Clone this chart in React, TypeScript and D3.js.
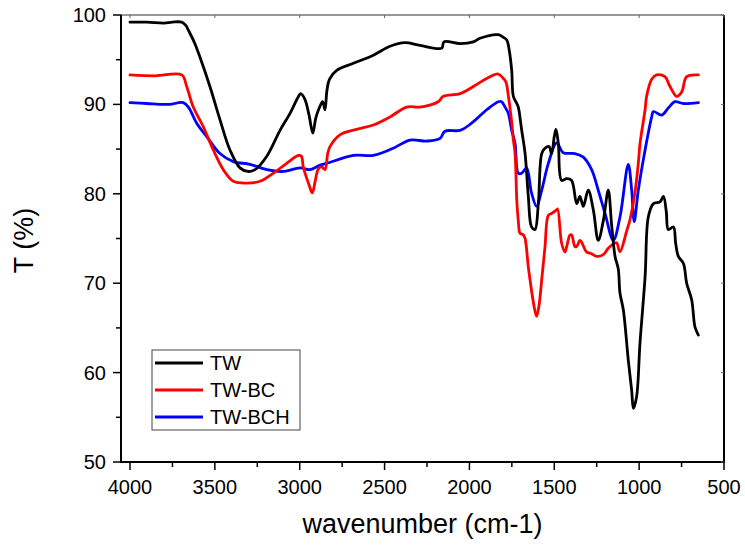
import React from "react";
import * as d3 from "d3";

// ---- data ----
const twWave = [4000, 3900, 3800, 3750, 3695, 3670, 3656, 3620, 3588, 3529, 3470, 3411, 3352, 3305, 3263, 3194, 3116, 3057, 3010, 2995, 2970, 2945, 2923, 2905, 2885, 2865, 2851, 2840, 2825, 2782, 2684, 2566, 2468, 2380, 2291, 2163, 2150, 2055, 1977, 1938, 1830, 1800, 1780, 1765, 1751, 1741, 1721, 1712, 1692, 1672, 1653, 1634, 1614, 1594, 1574, 1555, 1531, 1516, 1500, 1490, 1476, 1457, 1427, 1398, 1368, 1349, 1329, 1300, 1270, 1241, 1211, 1182, 1162, 1142, 1123, 1113, 1093, 1064, 1044, 1034, 1015, 995, 965, 946, 916, 877, 857, 840, 828, 798, 785, 769, 739, 720, 690, 671, 651];
const twT = [99.2, 99.2, 99.1, 99.2, 99.2, 98.8, 98.3, 96.9, 95.3, 92.0, 88.3, 84.9, 82.9, 82.5, 82.7, 84.2, 87.1, 89.0, 90.8, 91.2, 90.6, 88.8, 86.8, 88.5, 89.6, 90.3, 89.4, 91.5, 92.8, 93.8, 94.6, 95.5, 96.5, 96.9, 96.6, 96.3, 97.0, 96.8, 97.0, 97.4, 97.8, 97.5, 97.2, 96.0, 93.8, 90.9, 90.1, 89.7, 87.1, 84.5, 79.7, 76.3, 76.0, 78.9, 84.5, 85.1, 85.3, 84.5, 86.4, 87.2, 85.6, 81.5, 81.7, 81.5, 78.9, 79.7, 78.6, 80.4, 78.2, 74.8, 77.0, 80.4, 76.5, 73.0, 71.6, 68.9, 67.0, 61.4, 58.0, 56.0, 57.3, 63.3, 70.7, 77.4, 78.9, 79.1, 79.7, 78.0, 76.0, 76.3, 74.5, 73.0, 72.2, 70.0, 68.1, 65.1, 64.2];

const bcWave = [4000, 3850, 3695, 3666, 3627, 3568, 3509, 3450, 3391, 3312, 3234, 3156, 3077, 3008, 2990, 2979, 2945, 2926, 2908, 2890, 2870, 2851, 2835, 2821, 2763, 2665, 2566, 2468, 2370, 2291, 2184, 2154, 2055, 1977, 1898, 1830, 1800, 1785, 1771, 1751, 1741, 1731, 1721, 1712, 1702, 1682, 1672, 1653, 1643, 1620, 1604, 1590, 1574, 1555, 1535, 1516, 1486, 1480, 1457, 1437, 1427, 1407, 1398, 1378, 1368, 1349, 1339, 1310, 1280, 1250, 1211, 1182, 1142, 1132, 1113, 1074, 1054, 1025, 1005, 995, 965, 956, 926, 897, 848, 818, 779, 749, 720, 651];
const bcT = [93.3, 93.2, 93.3, 92.0, 89.7, 87.5, 84.9, 82.7, 81.4, 81.2, 81.4, 82.3, 83.4, 84.3, 84.2, 83.0, 81.0, 80.1, 81.5, 82.8, 83.0, 82.7, 84.5, 85.3, 86.6, 87.2, 87.7, 88.6, 89.7, 89.7, 90.3, 90.9, 91.2, 92.0, 92.9, 93.4, 92.9, 92.5, 91.0, 88.0, 86.0, 84.5, 79.3, 77.0, 75.6, 75.4, 75.0, 71.8, 70.4, 67.5, 66.3, 67.5, 70.4, 74.0, 77.6, 77.8, 78.2, 78.3, 74.5, 73.5, 74.1, 75.4, 75.4, 74.1, 74.1, 74.8, 74.6, 73.5, 73.3, 73.0, 73.2, 73.9, 74.5, 74.5, 73.5, 75.8, 77.1, 80.1, 83.4, 85.6, 89.4, 90.9, 92.8, 93.3, 93.1, 92.0, 90.9, 91.4, 93.1, 93.3];

const bchWave = [4000, 3900, 3800, 3765, 3686, 3656, 3607, 3548, 3470, 3391, 3293, 3194, 3097, 2998, 2939, 2880, 2841, 2684, 2566, 2449, 2350, 2252, 2173, 2144, 2055, 1987, 1898, 1830, 1810, 1790, 1771, 1751, 1731, 1712, 1692, 1663, 1634, 1604, 1574, 1535, 1486, 1447, 1378, 1329, 1280, 1241, 1201, 1152, 1113, 1064, 1044, 1029, 1005, 965, 926, 916, 867, 828, 789, 739, 651];
const bchT = [90.2, 90.1, 90.0, 90.0, 90.2, 89.7, 87.9, 86.4, 84.5, 83.6, 83.3, 82.7, 82.5, 82.9, 82.7, 83.2, 83.4, 84.3, 84.3, 85.1, 86.0, 85.9, 86.2, 87.0, 87.1, 87.9, 89.4, 90.3, 90.3, 89.7, 89.0, 87.1, 85.6, 82.3, 82.3, 82.9, 80.1, 78.6, 80.4, 83.4, 85.7, 84.6, 84.5, 84.1, 82.7, 80.4, 77.8, 74.8, 77.4, 83.3, 80.4, 76.9, 80.4, 84.9, 88.6, 89.2, 88.8, 89.6, 90.3, 90.1, 90.2];

const seriesNames = ["TW", "TW-BC", "TW-BCH"];
const seriesColors = ["#000000", "#ff0000", "#0000ff"];
const xTicks = [4000, 3500, 3000, 2500, 2000, 1500, 1000, 500];
const xMinor = [3750, 3250, 2750, 2250, 1750, 1250, 750];
const yTicks = [50, 60, 70, 80, 90, 100];
const yMinor = [55, 65, 75, 85, 95];

const W = 745, H = 547;
const L = 121, R = 724, T = 15, B = 462;
const FONT = "Arial, 'Liberation Sans', Helvetica, sans-serif";

export default function App() {
  const x = d3.scaleLinear().domain([4053, 500]).range([L, R]);
  const y = d3.scaleLinear().domain([50, 100]).range([B, T]);
  const line = d3
    .line<[number, number]>()
    .x((d) => x(d[0]))
    .y((d) => y(d[1]))
    .curve(d3.curveCatmullRom.alpha(0.5));

  const series = [
    twWave.map((w, i) => [w, twT[i]] as [number, number]),
    bcWave.map((w, i) => [w, bcT[i]] as [number, number]),
    bchWave.map((w, i) => [w, bchT[i]] as [number, number]),
  ];
  const drawOrder = [2, 1, 0];

  return (
    <svg
      width={W}
      height={H}
      style={{ position: "absolute", left: 0, top: 0, background: "#fff" }}
      fontFamily={FONT}
    >
      <rect x={0} y={0} width={W} height={H} fill="#fff" />
      <defs>
        <clipPath id="plotclip">
          <rect x={L} y={T} width={R - L} height={B - T} />
        </clipPath>
      </defs>

      <g clipPath="url(#plotclip)">
        {drawOrder.map((i) => (
          <path
            key={seriesNames[i]}
            d={line(series[i]) || ""}
            fill="none"
            stroke={seriesColors[i]}
            strokeWidth={2.8}
            strokeLinejoin="round"
            strokeLinecap="round"
          />
        ))}
      </g>

      {/* frame */}
      <line x1={L} y1={T} x2={R} y2={T} stroke="#333" strokeWidth={1} />
      <line x1={R} y1={T} x2={R} y2={B} stroke="#000" strokeWidth={2} />
      <line x1={L} y1={T} x2={L} y2={B + 1} stroke="#000" strokeWidth={2} />
      <line x1={L - 1} y1={B} x2={R + 1} y2={B} stroke="#000" strokeWidth={2} />

      {/* top/right small ticks */}
      {xTicks.map((t) => (
        <line key={"tt" + t} x1={x(t)} x2={x(t)} y1={T} y2={T + 3} stroke="#666" strokeWidth={1} />
      ))}
      {yTicks.map((t) => (
        <line key={"rt" + t} x1={R} x2={R - 3} y1={y(t)} y2={y(t)} stroke="#666" strokeWidth={1} />
      ))}

      {/* x axis */}
      {xTicks.map((t) => (
        <g key={"x" + t}>
          <line x1={x(t)} x2={x(t)} y1={B} y2={B + 8} stroke="#000" strokeWidth={1.5} />
          <text x={x(t)} y={B + 32} textAnchor="middle" fontSize={20} fill="#000">
            {t}
          </text>
        </g>
      ))}
      {xMinor.map((t) => (
        <line key={"xm" + t} x1={x(t)} x2={x(t)} y1={B} y2={B + 5} stroke="#000" strokeWidth={1.5} />
      ))}

      {/* y axis */}
      {yTicks.map((t) => (
        <g key={"y" + t}>
          <line x1={L - 8} x2={L} y1={y(t)} y2={y(t)} stroke="#000" strokeWidth={1.5} />
          <text x={106} y={y(t)} dy="0.35em" textAnchor="end" fontSize={20} fill="#000">
            {t}
          </text>
        </g>
      ))}
      {yMinor.map((t) => (
        <line key={"ym" + t} x1={L - 5} x2={L} y1={y(t)} y2={y(t)} stroke="#000" strokeWidth={1.5} />
      ))}

      {/* axis titles */}
      <text x={(L + R) / 2} y={533} textAnchor="middle" fontSize={27} fill="#000">
        wavenumber (cm-1)
      </text>
      <text
        transform={`translate(33, ${(T + B) / 2 + 2}) rotate(-90)`}
        textAnchor="middle"
        fontSize={27}
        fill="#000"
      >
        T (%)
      </text>

      {/* legend */}
      <rect x={152} y={350} width={148} height={80} fill="#fff" stroke="#444" strokeWidth={1} />
      {seriesNames.map((n, i) => (
        <g key={"lg" + n}>
          <line x1={155} x2={203} y1={363 + i * 27} y2={363 + i * 27} stroke={seriesColors[i]} strokeWidth={3} />
          <text x={210} y={363 + i * 27} dy="0.36em" fontSize={20} fill="#000">
            {n}
          </text>
        </g>
      ))}
    </svg>
  );
}
